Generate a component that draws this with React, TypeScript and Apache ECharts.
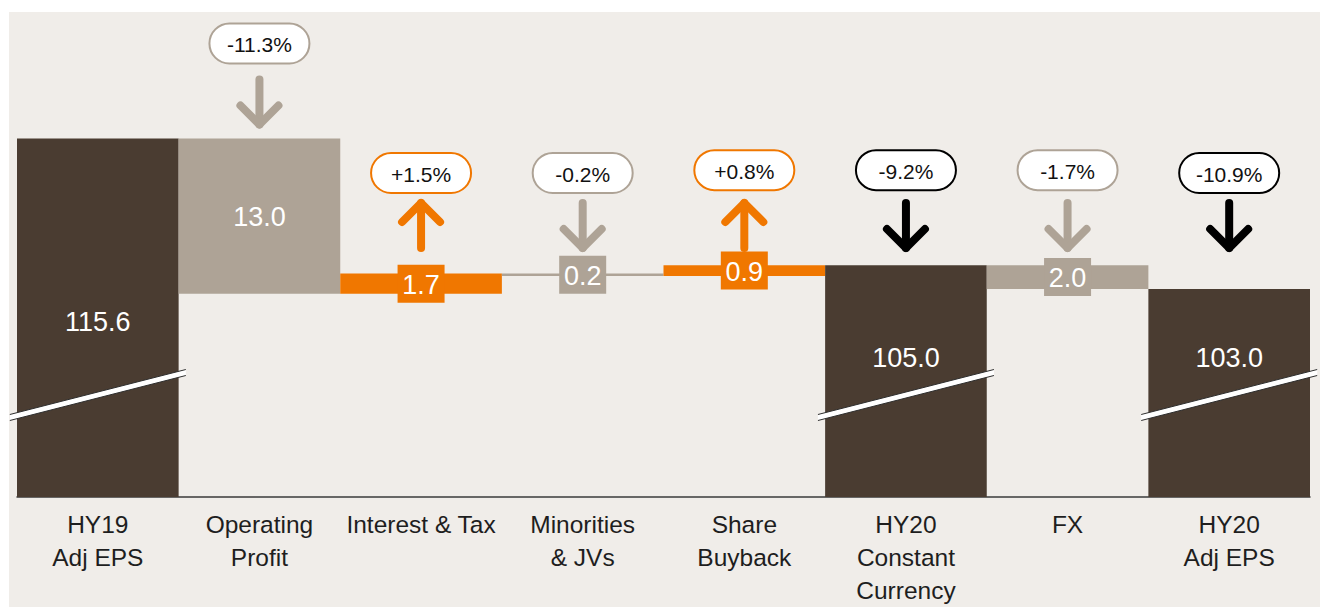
import React, { useEffect, useRef } from "react";
import * as echarts from "echarts";

const categories = [
  "HY19\nAdj EPS",
  "Operating\nProfit",
  "Interest & Tax",
  "Minorities\n& JVs",
  "Share\nBuyback",
  "HY20\nConstant\nCurrency",
  "FX",
  "HY20\nAdj EPS",
];
const isTotal = [true, false, false, false, false, true, false, true];
const values = [115.6, -13.0, 1.7, -0.2, 0.9, 105.0, -2.0, 103.0];
const changeLabels = ["", "-11.3%", "+1.5%", "-0.2%", "+0.8%", "-9.2%", "-1.7%", "-10.9%"];

const Y_MIN = 85.6;
const Y_MAX = 126.1;

const DARK = "#4a3c31";
const TAN = "#aea396";
const ORANGE = "#f07700";
const BG = "#f0ede9";
const FONT = '"Liberation Sans", Arial, sans-serif';

// waterfall spans
const spans: number[][] = [];
{
  let run = 0;
  values.forEach((v, i) => {
    if (isTotal[i]) {
      run = v;
      spans.push([Y_MIN, v]);
    } else {
      const s = run;
      run = Math.round((run + v) * 10) / 10;
      spans.push([s, run]);
    }
  });
}

function colorOf(i: number) {
  if (isTotal[i]) return DARK;
  return values[i] < 0 ? TAN : ORANGE;
}

export default function App() {
  const ref = useRef<HTMLDivElement>(null);
  useEffect(() => {
    document.body.style.margin = "0";
    const chart = echarts.init(ref.current!, null, { renderer: "svg" });
    const data = categories.map((_, i) => [i, spans[i][0], spans[i][1], values[i]]);

    const renderItem = (params: any, api: any) => {
      const i = api.value(0);
      const lo = api.value(1);
      const hi = api.value(2);
      const p1 = api.coord([i, lo]);
      const p2 = api.coord([i, hi]);
      const base = api.coord([i, Y_MIN]);
      const w = api.size([1, 0])[0];
      const cx = p1[0];
      const yTop = Math.min(p1[1], p2[1]);
      const h = Math.abs(p1[1] - p2[1]);
      const yBase = base[1];
      const col = colorOf(i);
      const children: any[] = [];
      children.push({
        type: "rect",
        shape: { x: cx - w / 2, y: yTop, width: w, height: Math.max(h, 1) },
        style: { fill: col },
      });
      let labelY = yTop + h / 2;
      if (isTotal[i]) {
        labelY = Math.min((yTop + yBase) / 2 + 3, yBase - 140);
        // axis break mark
        const yc = yBase - 102;
        const xl = cx - 88, xr = cx + 88;
        const yl = yc + 22.5, yr = yc - 22.5;
        children.push({
          type: "polygon",
          shape: { points: [[xl, yl - 3], [xr, yr - 3], [xr, yr + 3], [xl, yl + 3]] },
          style: { fill: "#ffffff" },
        });
        children.push({
          type: "line",
          shape: { x1: xl, y1: yl - 3, x2: xr, y2: yr - 3 },
          style: { stroke: "#2e2e2e", lineWidth: 1 },
        });
        children.push({
          type: "line",
          shape: { x1: xl, y1: yl + 3, x2: xr, y2: yr + 3 },
          style: { stroke: "#2e2e2e", lineWidth: 1 },
        });
      } else if (h < 38) {
        children.push({
          type: "rect",
          shape: { x: cx - 23.5, y: labelY - 19, width: 47, height: 38 },
          style: { fill: col },
        });
      }
      children.push({
        type: "text",
        style: {
          text: Math.abs(api.value(3)).toFixed(1),
          x: cx,
          y: labelY + 1,
          fill: "#ffffff",
          fontSize: 27,
          fontFamily: FONT,
          align: "center",
          verticalAlign: "middle",
        },
      });
      // change pill + arrow
      const pct = changeLabels[i];
      if (pct) {
        const pillCol = isTotal[i] ? "#000000" : col;
        const pillTop = Math.min(153, yTop - 115);
        children.push({
          type: "rect",
          shape: { x: cx - 50, y: pillTop, width: 100, height: 40, r: 20 },
          style: { fill: "#ffffff", stroke: pillCol, lineWidth: 2 },
        });
        children.push({
          type: "text",
          style: {
            text: pct,
            x: cx,
            y: pillTop + 21,
            fill: "#111111",
            fontSize: 21,
            fontFamily: FONT,
            align: "center",
            verticalAlign: "middle",
          },
        });
        const aBottom = Math.min(yTop - 14, 248);
        const aTop = aBottom - 45;
        const up = !isTotal[i] && values[i] > 0;
        const aStyle = { stroke: pillCol, lineWidth: 8, lineCap: "round", lineJoin: "round", fill: null };
        children.push({
          type: "line",
          shape: { x1: cx, y1: aTop, x2: cx, y2: aBottom },
          style: aStyle,
        });
        const pts = up
          ? [[cx - 19, aTop + 19], [cx, aTop], [cx + 19, aTop + 19]]
          : [[cx - 19, aBottom - 19], [cx, aBottom], [cx + 19, aBottom - 19]];
        children.push({ type: "polyline", shape: { points: pts }, style: aStyle });
      }
      return { type: "group", children };
    };

    chart.setOption({
      animation: false,
      backgroundColor: "transparent",
      grid: { left: 17, right: 10, top: 13, bottom: 104, containLabel: false },
      xAxis: {
        type: "category",
        data: categories,
        axisTick: { show: false },
        axisLine: { lineStyle: { color: "#3a3a3a", width: 1.5 } },
        axisLabel: {
          interval: 0,
          fontSize: 24.5,
          lineHeight: 33,
          color: "#1e1e1e",
          fontFamily: FONT,
          margin: 11,
        },
        splitLine: { show: false },
      },
      yAxis: {
        type: "value",
        min: Y_MIN,
        max: Y_MAX,
        show: false,
        splitLine: { show: false },
      },
      series: [
        {
          type: "custom",
          renderItem,
          data,
          encode: { x: 0, y: [1, 2] },
          clip: false,
          z: 1,
        },
      ],
    });
    return () => chart.dispose();
  }, []);

  return (
    <div style={{ position: "relative", width: 1320, height: 607, background: "#ffffff", overflow: "hidden" }}>
      <div style={{ position: "absolute", left: 9, top: 12, width: 1311, height: 595, background: BG }} />
      <div ref={ref} style={{ position: "absolute", left: 0, top: 0, width: 1320, height: 607 }} />
    </div>
  );
}
